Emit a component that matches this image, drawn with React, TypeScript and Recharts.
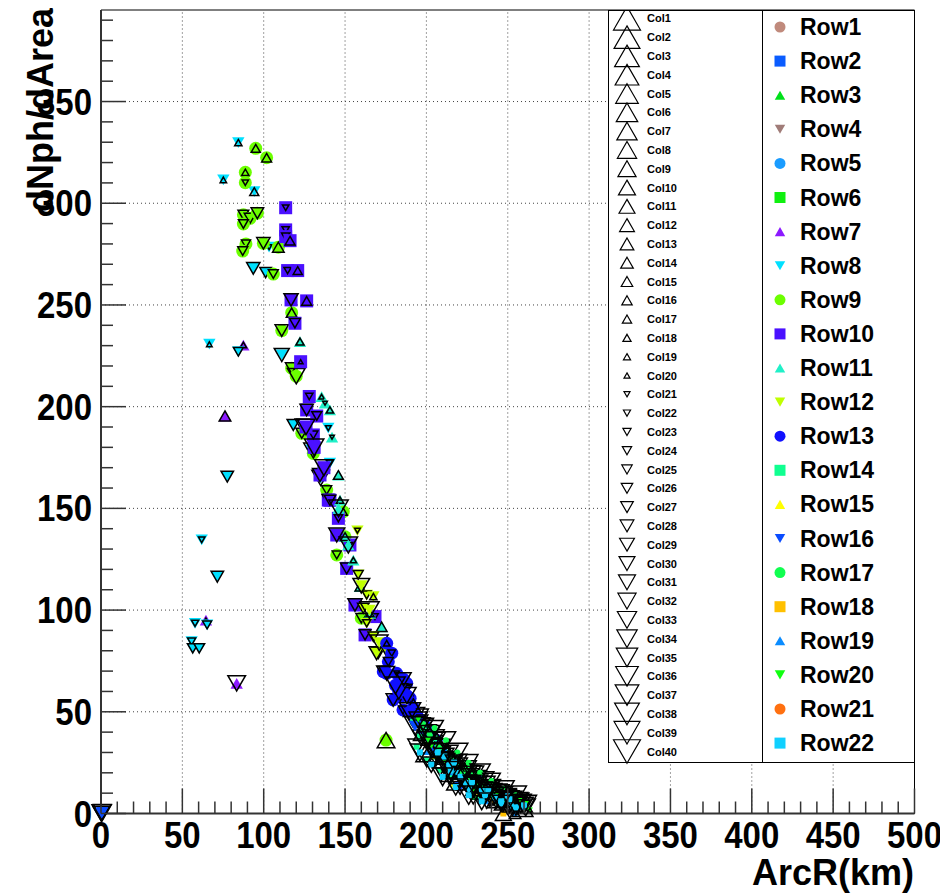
import { ScatterChart, Scatter, XAxis, YAxis, ReferenceLine, ReferenceArea } from "recharts";

// each point: [ArcR(km), dNph/dArea, col]
const row7Points = [[87.5, 230.3, 18], [76.2, 195.4, 12], [64.5, 95.1, 20], [83.4, 64, 36]];
const row8Points = [
  [84.4, 329.8, 17], [75.2, 311.5, 18], [94.2, 305.7, 15], [93.6, 268, 31], [101.2, 265.9, 29],
  [103.3, 278.4, 22], [66.6, 230.7, 19], [84.4, 227, 27], [111.1, 225.4, 33], [118.2, 191, 30],
  [129.5, 178.7, 34], [77.6, 165.6, 30], [140.7, 172.2, 24], [61.9, 134.5, 23], [71.5, 116.4, 30],
  [57.8, 93.5, 24], [65.2, 92.7, 26], [55.7, 84.5, 25], [56.4, 81.2, 28], [60.4, 81.2, 28], [139.7, 189.4, 22],
  [125, 190, 37], [135, 165, 36],
];
const row9Points = [
  [95.1, 327, 15], [101.8, 322.4, 14], [88.7, 315.2, 17], [88.7, 310.1, 23], [87.5, 294.3, 28],
  [91.6, 292.6, 29], [96.1, 295.1, 30], [87.5, 289.8, 27], [89.1, 280, 26], [87.1, 276.5, 27],
  [99.8, 280.3, 31], [109, 278.4, 12], [105.9, 265.2, 27], [117.2, 246.2, 13], [111.1, 237.4, 31],
  [117.2, 218.9, 30], [123.4, 186.9, 29], [130.5, 177, 28], [138.7, 159, 27], [148.9, 148.4, 16],
  [144.9, 127.1, 26], [175.2, 36.1, 5], [160, 96, 28], [150, 136, 20], [120, 215, 36],
];
const row10Points = [
  [113.5, 297.8, 23], [113.5, 286.9, 24], [113.5, 283.6, 25], [116.2, 281.6, 14], [114.7, 266.9, 24],
  [120.9, 266.9, 15], [116.8, 252.5, 32], [126.4, 252, 14], [119.2, 241, 28], [122.7, 222.1, 20],
  [126.4, 198.4, 31], [132.6, 195.4, 27], [130.5, 186.1, 26], [134.6, 166.4, 33], [139.7, 154.1, 30],
  [140.7, 154, 29], [145.9, 145.1, 25], [144.9, 136.9, 34], [153, 132, 22], [151, 120.5, 30],
  [156.1, 102.5, 32], [168.4, 96.8, 23], [162.3, 87.8, 29], [128, 205, 24], [137, 170, 37],
  [131, 180, 38], [126, 190, 36],
];
const row11Points = [
  [135.6, 204.9, 19], [137.7, 201.7, 21], [140.7, 198.4, 17], [122.3, 232, 16], [145.9, 166.4, 14],
  [146.9, 154.1, 17], [150, 136.1, 15], [155.1, 124.6, 18], [159.2, 111.5, 14], [165.3, 98.4, 16],
  [172.5, 91.8, 13], [142, 185, 21], [152, 132, 37], [146, 150, 38],
];
const row12Points = [
  [157.6, 139, 22], [158.1, 117.3, 27], [163.3, 107.4, 26], [167.4, 106.6, 17], [161.2, 100.9, 29],
  [163.3, 93.5, 25], [167.4, 86.9, 28], [170.4, 78.8, 30], [169.4, 78.8, 33], [175, 80, 26],
  [165, 100, 38], [171, 84, 36], [160, 112, 35],
];
const row13Points = [
  [175.6, 83.7, 18], [178.7, 78.8, 24], [176.6, 74.6, 27], [173.5, 69.7, 31], [181.7, 68.9, 22],
  [175.6, 68.9, 34], [187.9, 64, 19], [190, 56.6, 23], [183.8, 57.4, 28], [179.6, 55.8, 32],
  [185.6, 50.9, 26], [186, 60, 35], [193, 48, 38], [198, 40, 3], [204, 34, 39],
  [188, 58, 37], [192, 52, 2], [195, 47, 39], [199, 43, 36], [203, 38, 1], [186, 66, 33],
  [196, 45, 34], [201, 40, 35], [206, 36, 37], [190, 50, 40], [183, 60, 36], [181, 63, 38],
];
const row14Points = [
  [191.8, 45.1, 30], [200.2, 41, 24], [196.1, 37.8, 33], [204.1, 36.1, 27], [194, 32.8, 36],
  [210.4, 31.2, 22], [200.2, 26.3, 34], [208.4, 21.4, 31], [220.7, 23, 25], [214.5, 18.1, 35],
  [212, 30, 2], [222, 21, 4], [232, 15, 6], [206, 28, 40], [216, 25, 38], [224, 18, 39],
  [228, 17, 3], [235, 12, 37], [244, 8, 40], [238, 9, 4], [218, 22, 1],
  [226, 20, 36], [231, 17, 38], [236, 14, 39], [241, 11, 36], [247, 9, 38], [253, 7, 37],
  [258, 5, 40], [243, 6, 34], [233, 8, 33], [198, 42, 37], [205, 37, 38], [213, 29, 40],
  [219, 23, 39], [227, 19, 40], [234, 14, 38], [239, 12, 40], [249, 8, 39], [257, 6, 38],
];
const row15Points = [[205, 28, 10], [224.8, 19.8, 8], [216, 14, 12], [232, 10, 9], [239, 7, 35]];
const row16Points = [
  [0, 0, 34], [0.8, 0.6, 36], [0.4, 0.2, 38], [231, 16.5, 33], [220.7, 13.2, 36], [237.1, 13.2, 30],
  [209, 29, 38], [227, 18, 37], [193, 43, 40], [204, 31, 36], [214, 26, 38], [222, 17, 36], [239, 10, 38],
];
const row17Points = [
  [228.8, 8.3, 35], [245.2, 11.6, 29], [198, 44, 32], [212, 26, 37], [240, 11, 3], [226, 16, 38],
  [207, 33, 36], [215, 27, 34], [222, 20, 40], [233, 13, 2], [246, 7, 39], [252, 6, 35],
  [219, 25, 38], [225, 22, 37], [229, 19, 39], [235, 16, 40], [240, 13, 36], [245, 10, 38],
  [250, 8, 36], [256, 6, 39], [202, 39, 39], [208, 32, 40], [216, 24, 36], [223, 19, 39],
  [232, 15, 37], [237, 12, 38], [243, 10, 40], [248, 7, 37], [254, 5, 36], [261, 3, 38],
  [205, 42, 36], [212, 36, 38], [219, 30, 40], [226, 25, 37], [233, 20, 39], [240, 16, 36],
  [248, 12, 38], [255, 9, 40], [262, 5, 37],
];
const row18Points = [[247.3, 0, 7], [240, 6, 28]];
const row19Points = [
  [254.5, 0, 12], [249.4, 8.3, 30], [237.1, 5.8, 33], [242, 9, 37], [256, 4, 38], [259, 3, 1],
  [210, 27, 1], [220, 19, 2], [230, 13, 3], [253, 5, 2], [200, 30, 1], [215, 20, 2],
  [225, 16, 1], [243, 7, 3],
];
const row20Points = [
  [263.7, 1.7, 20], [257.5, 6.6, 27], [261.6, 5, 24], [230, 14, 36], [236, 11, 38], [248, 6, 2],
  [203, 33, 40], [213, 22, 39], [229, 12, 38], [244, 9, 36], [195, 46, 37], [201, 36, 38],
  [211, 25, 40], [226, 14, 39], [241, 8, 37], [251, 5, 40],
];
const row22Points = [
  [218, 20, 29], [226, 12, 32], [242, 8, 34], [252, 4, 31], [250, 9, 5],
  [214, 24, 39], [224, 15, 35], [234, 11, 40], [246, 5, 37], [255, 3, 36],
  [211, 28, 38], [217, 25, 36], [221, 18, 37], [238, 11, 39], [251, 7, 38], [260, 4, 37],
  [207, 30, 39], [215, 21, 40], [228, 15, 36], [236, 9, 37], [246, 6, 39],
  [196, 30, 38], [203, 24, 36], [210, 18, 39], [218, 13, 37], [226, 9, 40], [234, 6, 38],
];

const rowNames = Array.from({ length: 22 }, (_, i) => `Row${i + 1}`);
const colNames = Array.from({ length: 40 }, (_, i) => `Col${i + 1}`);
const rowColors = [
  "#c08a7c", "#0a5cff", "#00e01a", "#a07c78", "#1a9cff", "#10f010", "#8c1aff", "#00e0ff",
  "#6cff00", "#4a10ff", "#20f0c8", "#c0ff00", "#1010ff", "#10ff90", "#ffff00", "#0a4cff",
  "#10ff50", "#ffc000", "#0a8cff", "#10ff10", "#ff7010", "#10d0ff",
];
const rowShapes = ["circle", "square", "up", "down"];

const series = [
  { row: 7, pts: row7Points }, { row: 8, pts: row8Points }, { row: 9, pts: row9Points },
  { row: 10, pts: row10Points }, { row: 11, pts: row11Points }, { row: 12, pts: row12Points },
  { row: 13, pts: row13Points }, { row: 14, pts: row14Points }, { row: 15, pts: row15Points },
  { row: 16, pts: row16Points }, { row: 17, pts: row17Points }, { row: 18, pts: row18Points },
  { row: 19, pts: row19Points }, { row: 20, pts: row20Points }, { row: 22, pts: row22Points },
];

const xTicks = Array.from({ length: 51 }, (_, i) => i * 10);
const yTicks = Array.from({ length: 40 }, (_, i) => i * 10);
const xMajor = [50, 100, 150, 200, 250, 300, 350, 400, 450];
const yMajor = [50, 100, 150, 200, 250, 300, 350];

const FONT = "'Liberation Sans', Arial, Helvetica, sans-serif";

const colSize = (c: number) => (c <= 20 ? 27 - ((c - 1) * 21) / 19 : 6 + ((c - 21) * 21) / 19);
// rows down the tail of the curve carry small markers that hide under the outlines
const rowMarkerSize = (row: number) => (row >= 14 && row !== 16 ? 6 : 13);

function tri(cx: number, cy: number, w: number, up: boolean) {
  const h = w * 0.87;
  return up
    ? `M${cx},${cy - h / 2}L${cx + w / 2},${cy + h / 2}L${cx - w / 2},${cy + h / 2}Z`
    : `M${cx},${cy + h / 2}L${cx + w / 2},${cy - h / 2}L${cx - w / 2},${cy - h / 2}Z`;
}

function RowMarker({ cx, cy, row, s }: { cx: number; cy: number; row: number; s: number }) {
  const color = rowColors[row - 1];
  const shape = rowShapes[(row - 1) % 4];
  if (shape === "circle") return <circle cx={cx} cy={cy} r={s / 2} fill={color} />;
  if (shape === "square") return <rect x={cx - s / 2} y={cy - s / 2} width={s} height={s} fill={color} />;
  return <path d={tri(cx, cy, s * 0.95, shape === "up")} fill={color} />;
}

function PointShape(props: any) {
  const { cx, cy, payload, row } = props;
  if (cx == null || cy == null) return null;
  const c = payload.col;
  return (
    <g>
      <RowMarker cx={cx} cy={cy} row={row} s={rowMarkerSize(row)} />
      <path d={tri(cx, cy, colSize(c) * 0.78, c <= 20)} fill="none" stroke="#000" strokeWidth={1.5} />
    </g>
  );
}

function XTick(props: any) {
  const { x, y, payload } = props;
  const v = payload.value;
  const major = v % 50 === 0;
  return (
    <g>
      <line x1={x} y1={y} x2={x} y2={y - (major ? 25 : 12)} stroke="#333" strokeWidth={1.5} />
      {major && (
        <g transform={`translate(${x},${y + 34}) scale(1,1.12)`}>
          <text x={0} y={0} textAnchor="middle" fontFamily={FONT} fontWeight="bold" fontSize={33} fill="#000">
            {v}
          </text>
        </g>
      )}
    </g>
  );
}

function YTick(props: any) {
  const { x, y, payload } = props;
  const v = payload.value;
  const major = v % 50 === 0;
  return (
    <g>
      <line x1={x} y1={y} x2={x + (major ? 25 : 12)} y2={y} stroke="#333" strokeWidth={1.5} />
      {major && (
        <g transform={`translate(${x - 9},${y + 13}) scale(1,1.12)`}>
          <text x={0} y={0} textAnchor="end" fontFamily={FONT} fontWeight="bold" fontSize={33} fill="#000">
            {v}
          </text>
        </g>
      )}
    </g>
  );
}

function LegendBoxes() {
  const colStep = 18.8;
  const rowStep = 34.1;
  return (
    <svg width={310} height={756} style={{ position: "absolute", left: 600, top: 2 }}>
      <rect x={0.5} y={0.5} width={154} height={752} fill="#fff" stroke="#000" />
      <rect x={154.5} y={0.5} width={152} height={752} fill="#fff" stroke="#000" />
      {colNames.map((name, i) => {
        const cy = 8.3 + i * colStep;
        const c = i + 1;
        return (
          <g key={name}>
            <path d={tri(19, cy, colSize(c), c <= 20)} fill="none" stroke="#000" strokeWidth={1.2} />
            <text x={39} y={cy + 4} fontFamily={FONT} fontWeight="bold" fontSize={11} fill="#000">
              {name}
            </text>
          </g>
        );
      })}
      {rowNames.map((name, i) => {
        const cy = 17 + i * rowStep;
        return (
          <g key={name}>
            <RowMarker cx={172} cy={cy} row={i + 1} s={11} />
            <text x={192} y={cy + 8} fontFamily={FONT} fontWeight="bold" fontSize={23} fill="#000">
              {name}
            </text>
          </g>
        );
      })}
    </svg>
  );
}

export default function App() {
  return (
    <div style={{ position: "relative", width: 940, height: 886, background: "#fff" }}>
      <ScatterChart width={940} height={886} margin={{ top: 2, right: 33.5, bottom: 20.5, left: 33 }}>
        <XAxis
          type="number"
          dataKey="x"
          domain={[0, 500]}
          ticks={xTicks}
          interval={0}
          height={60}
          tickSize={0}
          tickMargin={0}
          tickLine={false}
          axisLine={{ stroke: "#333", strokeWidth: 2 }}
          tick={(p: any) => <XTick {...p} />}
        />
        <YAxis
          type="number"
          dataKey="y"
          domain={[0, 395]}
          ticks={yTicks}
          interval={0}
          width={60}
          tickSize={0}
          tickMargin={0}
          tickLine={false}
          axisLine={{ stroke: "#333", strokeWidth: 2 }}
          tick={(p: any) => <YTick {...p} />}
        />
        {xMajor.map((v) => (
          <ReferenceLine key={`gx${v}`} x={v} stroke="#444" strokeDasharray="1 3" />
        ))}
        {yMajor.map((v) => (
          <ReferenceLine key={`gy${v}`} y={v} stroke="#444" strokeDasharray="1 3" />
        ))}
        <ReferenceArea x1={0} x2={500} y1={0} y2={395} fill="none" stroke="#000" strokeWidth={1} />
        {series.map((s) => (
          <Scatter
            key={s.row}
            name={rowNames[s.row - 1]}
            data={s.pts.map(([x, y, col]) => ({ x, y, col }))}
            isAnimationActive={false}
            shape={(p: any) => <PointShape {...p} row={s.row} />}
          />
        ))}
      </ScatterChart>
      <svg width={940} height={886} style={{ position: "absolute", left: 0, top: 0, pointerEvents: "none" }}>
        <text
          transform="translate(45, 0) rotate(-90)"
          textAnchor="end"
          fontFamily={FONT}
          fontWeight="bold"
          fontSize={36}
          fill="#000"
        >
          dNph/dArea
        </text>
        <text x={906} y={877} textAnchor="end" fontFamily={FONT} fontWeight="bold" fontSize={36} fill="#000">
          ArcR(km)
        </text>
      </svg>
      <LegendBoxes />
    </div>
  );
}
